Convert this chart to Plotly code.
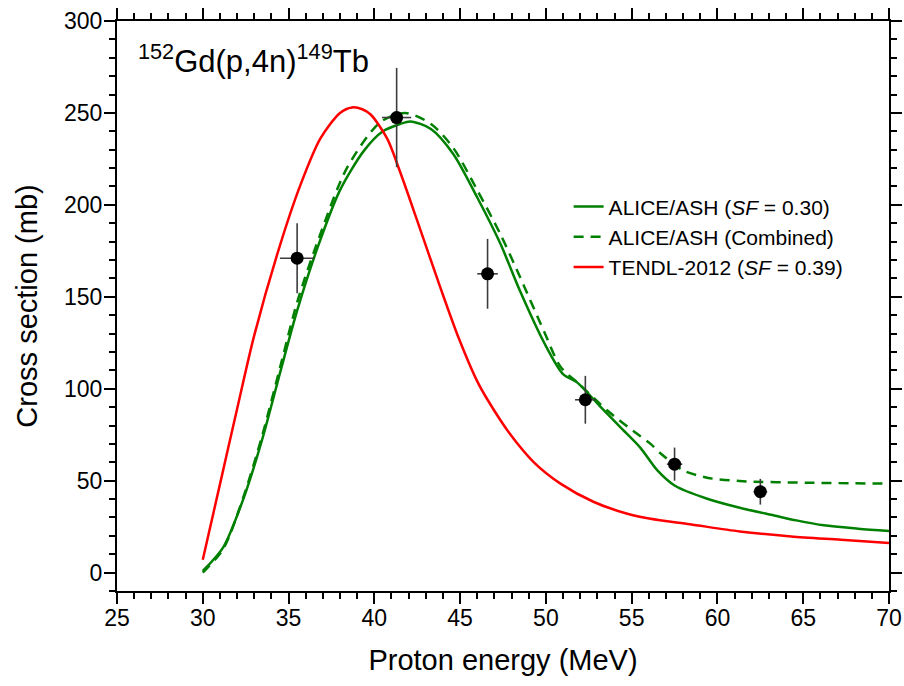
import plotly.graph_objects as go

# ---- data ----
tendl_E = [30, 31, 32, 33, 34.5, 35.7, 36.85, 38.0, 38.7, 39.3, 39.8, 40.75, 41.5, 42.7, 43.85,
           44.9, 46.0, 46.6, 47.9, 49.3, 50.85, 52.8, 54.75, 56.1, 58.4, 61.3, 64.3, 67.2, 70]
tendl_S = [7, 48, 89, 129, 178, 211, 236, 250, 253, 252, 249, 236, 218, 186, 155,
           128, 104, 94, 75.5, 60, 48.4, 38.4, 32, 29.3, 26.3, 22.4, 19.7, 17.9, 16.1]

ash_E = [30, 31.2, 32.4, 33.45, 34.6, 35.5, 36.7, 38.0, 39.4, 40.5, 41.5, 42.1, 43.3, 44.6, 46.0,
         47.35, 48.5, 49.9, 51.0, 51.8, 53.2, 54.35, 55.5, 56.5, 57.5, 59.4, 61.3, 63.3, 64.6,
         66.2, 68.2, 70]
ash_S = [0.9, 13.9, 41, 72, 112, 142.5, 177, 208, 229.5, 240, 244, 245.4, 241.3, 227.7, 204,
         178.8, 153, 125, 108, 103.6, 90, 79, 68, 55.6, 47.4, 40.2, 35.3, 31.1, 28.4,
         25.7, 23.9, 22.6]

comb_E = [30, 31.2, 32.4, 33.45, 34.6, 35.5, 36.85, 38.4, 40.35, 41.8, 43.3, 44.6, 46.0, 47.35,
          48.5, 49.9, 50.85, 52.0, 53.6, 55.1, 56.1, 56.7, 58.0, 59.4, 61.3, 65.2, 70]
comb_S = [0, 13, 42, 74, 115, 147, 184, 220, 245, 250, 244, 231, 208, 184,
          160.6, 131, 112, 102, 88, 77, 70, 64.7, 55.6, 51.6, 49.8, 48.9, 48.4]

exp_E = [35.5, 41.3, 46.6, 52.3, 57.5, 62.5]
exp_S = [171, 247.5, 162.5, 94, 59, 44]
exp_dE = [1.0, 0.85, 0.6, 0.6, 0.45, 0.4]
exp_dS = [19, 27, 19, 13, 9, 7]

x_ticks = [25, 30, 35, 40, 45, 50, 55, 60, 65, 70]
y_ticks = [0, 50, 100, 150, 200, 250, 300]

FONT = "Arial, Liberation Sans, sans-serif"
GREEN = "#008000"
RED = "#FF0000"

fig = go.Figure()
fig.add_trace(go.Scatter(x=ash_E, y=ash_S, mode="lines",
                         line=dict(color=GREEN, width=2.5, shape="spline", smoothing=0.8),
                         name="ALICE/ASH (<i>SF</i> = 0.30)"))
fig.add_trace(go.Scatter(x=comb_E, y=comb_S, mode="lines",
                         line=dict(color=GREEN, width=2.5, dash="10px,7px", shape="spline", smoothing=0.8),
                         name="ALICE/ASH (Combined)"))
fig.add_trace(go.Scatter(x=tendl_E, y=tendl_S, mode="lines",
                         line=dict(color=RED, width=2.5, shape="spline", smoothing=0.8),
                         name="TENDL-2012 (<i>SF</i> = 0.39)"))
fig.add_trace(go.Scatter(x=exp_E, y=exp_S, mode="markers",
                         marker=dict(color="black", size=13),
                         error_x=dict(type="data", array=exp_dE, color="#3c3c3c", thickness=1.6, width=0),
                         error_y=dict(type="data", array=exp_dS, color="#3c3c3c", thickness=1.6, width=0),
                         showlegend=False))

axis_common = dict(
    showline=True, linecolor="black", linewidth=2, mirror="allticks",
    ticks="outside", ticklen=11, tickwidth=2, tickcolor="black",
    showgrid=False, zeroline=False, automargin=False,
    tickfont=dict(family=FONT, size=23, color="black"),
)

fig.update_xaxes(**axis_common, range=[25, 70], tickvals=x_ticks, ticklabelstandoff=-6,
                 minor=dict(dtick=1, tick0=25, ticks="outside", ticklen=6, tickwidth=2, tickcolor="black", showgrid=False),
                 title=dict(text="Proton energy (MeV)", font=dict(family=FONT, size=29, color="black"), standoff=20))
fig.update_yaxes(**axis_common, range=[-10, 300], tickvals=y_ticks, ticklabelstandoff=-3,
                 minor=dict(dtick=10, tick0=0, ticks="outside", ticklen=6, tickwidth=2, tickcolor="black", showgrid=False),
                 title=dict(text="Cross section (mb)", font=dict(family=FONT, size=29, color="black"), standoff=18))

fig.add_annotation(xref="paper", yref="paper", x=0.024, y=0.934, xanchor="left", yanchor="middle",
                   text="<sup>152</sup>Gd(p,4n)<sup>149</sup>Tb", showarrow=False,
                   font=dict(family=FONT, size=31, color="black"))

fig.update_layout(
    width=904, height=686,
    margin=dict(l=117, r=15, t=21, b=95),
    plot_bgcolor="white", paper_bgcolor="white",
    font=dict(family=FONT, color="black"),
    legend=dict(x=0.585, y=0.71, xanchor="left", yanchor="top",
                font=dict(family=FONT, size=21, color="black"),
                bgcolor="rgba(0,0,0,0)", tracegroupgap=0),
)

fig.write_html("out.html", config={"displayModeBar": False},
               post_script="document.body.style.margin='0';document.body.style.overflow='hidden';")
